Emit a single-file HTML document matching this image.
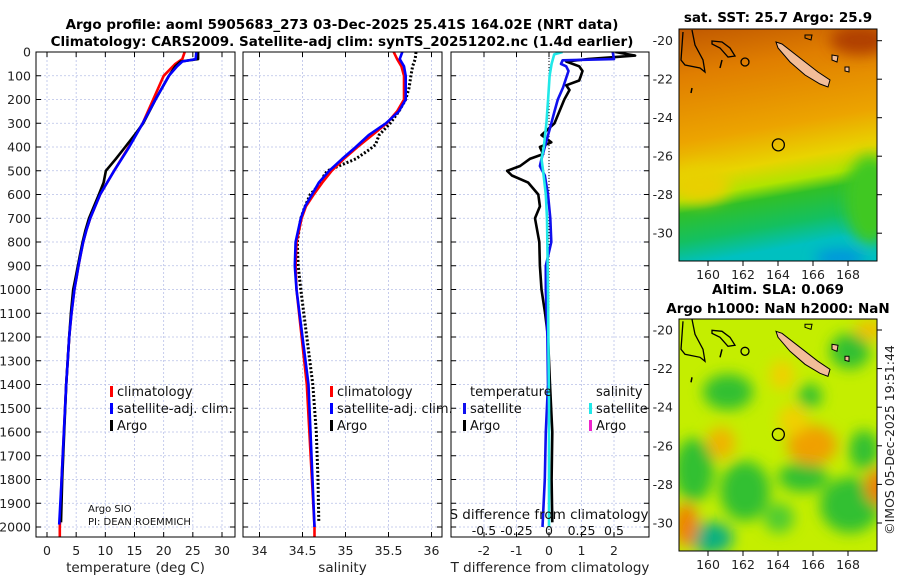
<!DOCTYPE html>
<html><head><meta charset="utf-8"><style>
html,body{margin:0;padding:0;background:#fff}
svg{display:block;font-family:"DejaVu Sans","Liberation Sans",sans-serif}
</style></head><body>
<svg id="s" width="900" height="580" viewBox="0 0 900 580" xmlns="http://www.w3.org/2000/svg">
<defs>
<clipPath id="c1"><rect x="36" y="52" width="199" height="485"/></clipPath>
<clipPath id="c2"><rect x="243" y="52" width="199" height="485"/></clipPath>
<clipPath id="c3"><rect x="451" y="52" width="198" height="485"/></clipPath>
<clipPath id="cm1"><rect x="679" y="29" width="198" height="232"/></clipPath>
<clipPath id="cm2"><rect x="679" y="319" width="198" height="232"/></clipPath>
<linearGradient id="sst" x1="0" y1="0" x2="0.15" y2="1">
<stop offset="0" stop-color="#c05800"/><stop offset="0.2" stop-color="#e07e00"/>
<stop offset="0.48" stop-color="#eca400"/><stop offset="0.63" stop-color="#e8d400"/>
<stop offset="0.72" stop-color="#b0e400"/><stop offset="0.78" stop-color="#30c028"/>
<stop offset="0.9" stop-color="#14c060"/><stop offset="1" stop-color="#00c0c0"/>
</linearGradient>
<filter id="bl" x="-50%" y="-50%" width="200%" height="200%"><feGaussianBlur stdDeviation="7"/></filter>
</defs>
<g font-weight="bold" font-size="13.5" text-anchor="middle">
<text x="342" y="29">Argo profile: aoml 5905683_273 03-Dec-2025 25.41S 164.02E (NRT data)</text>
<text x="342" y="46">Climatology: CARS2009. Satellite-adj clim: synTS_20251202.nc (1.4d earlier)</text>
</g>
<g id="panels"></g>
<g id="maps"></g>
</svg>
<script>
// ---------- data ----------
const tClimDepth = [0,30,50,100,200,300,400,500,600,700,750,800,850,900,950,1000,1100,1200,1400,1600,1800,2000,2045];
const tClim      = [23.6,23.2,22,20,18.2,16.4,14,11.5,9.1,7.4,6.75,6.2,5.8,5.4,5.05,4.7,4.2,3.8,3.3,2.9,2.5,2.2,2.2];
const tSatDepth  = [0,30,40,60,100,200,300,400,500,600,700,750,800,850,900,950,1000,1100,1200,1400,1600,1800,1990];
const tSat       = [25.6,25.5,23.2,22.3,20.9,18.6,16.4,14.1,11.5,9.1,7.4,6.75,6.2,5.8,5.4,5.05,4.7,4.2,3.8,3.3,2.9,2.5,2.1];
const tArgoDepth = [0,30,40,60,100,200,300,350,400,450,500,550,600,700,750,800,850,900,950,1000,1100,1200,1400,1600,1800,1980];
const tArgo      = [25.9,25.9,22.9,22,20.9,18.6,16.5,15,13.4,11.8,10.1,9.7,8.9,7.2,6.6,6.1,5.7,5.3,4.9,4.5,4.1,3.8,3.3,2.95,2.6,2.4];

const sClimDepth = [0,30,60,100,200,250,300,350,400,450,500,550,600,650,700,800,900,1000,1400,2000,2045];
const sClim      = [35.56,35.6,35.65,35.68,35.68,35.6,35.48,35.31,35.14,34.98,34.84,34.73,34.63,34.54,34.49,34.43,34.42,34.43,34.55,34.64,34.64];
const sSatDepth  = [0,30,60,100,200,250,300,350,400,450,500,550,600,650,700,800,900,1000,1400,2000];
const sSat       = [35.66,35.63,35.68,35.7,35.7,35.62,35.47,35.27,35.12,34.96,34.81,34.69,34.61,34.53,34.48,34.42,34.41,34.43,34.57,34.64];
const sArgoDepth = [0,30,60,100,150,200,250,300,350,390,410,450,500,520,550,600,650,700,800,900,1000,1400,1600,1800,1980];
const sArgo      = [35.82,35.81,35.78,35.76,35.74,35.7,35.62,35.52,35.39,35.35,35.28,35.12,34.79,34.75,34.72,34.59,34.53,34.48,34.44,34.45,34.48,34.62,34.66,34.68,34.69];

const dTArgoDepth = [0,15,30,40,60,80,100,120,140,160,200,250,300,350,380,400,430,450,480,500,520,550,600,650,700,800,900,1000,1100,1200,1400,1600,1800,1980];
const dTArgo      = [2.04,2.65,1.2,0.53,0.93,1.03,0.98,0.93,0.53,0.63,0.47,0.32,0.17,-0.23,0.07,-0.28,-0.18,-0.59,-0.89,-1.29,-1.14,-0.64,-0.33,-0.28,-0.43,-0.3,-0.28,-0.23,-0.12,-0.03,0.03,0.1,0.08,0.1];
const dTSatDepth  = [0,30,35,50,60,80,100,150,200,250,300,400,450,480,520,600,700,800,900,1000,1200,1400,1600,1800,2000];
const dTSat       = [1.96,2.0,0.42,0.37,0.53,0.6,0.55,0.43,0.27,0.17,0.07,-0.13,-0.23,-0.28,-0.13,-0.03,0.04,0.07,-0.1,-0.1,-0.05,-0.03,-0.1,-0.13,-0.2];
const dSSatDepth  = [0,10,50,100,200,300,400,450,500,600,700,1000,1500,2000];
const dSSat       = [0.105,0.04,0.02,0.005,-0.007,-0.02,-0.04,-0.058,-0.045,-0.025,-0.015,-0.008,0,0];

const depthTicks = [0,100,200,300,400,500,600,700,800,900,1000,1100,1200,1300,1400,1500,1600,1700,1800,1900,2000];
const tTicks  = [0,5,10,15,20,25,30];
const sTicks  = [34,34.5,35,35.5,36];
const sTickLabels = ["34","34.5","35","35.5","36"];
const dTTicks = [-2,-1,0,1,2];
const dSTicks = [-0.5,-0.25,0,0.25,0.5];
const dSTickLabels = ["-0.5","-0.25","0","0.25","0.5"];
const latTicks = [-20,-22,-24,-26,-28,-30];
const lonTicks = [160,162,164,166,168];
const floatLon = 164.02, floatLat = -25.41;

// ---------- scales ----------
const yD  = d => 52 + d*0.2375;
const xT  = t => 47 + t*5.833;
const xS  = s => 259.5 + (s-34)*86;
const xDT = v => 549 + v*32.5;
const xDS = v => 549 + v*130;
const NS = "http://www.w3.org/2000/svg";
function mk(tag, attrs, parent, txt){
  const e = document.createElementNS(NS, tag);
  for (const k in attrs) e.setAttribute(k, attrs[k]);
  if (txt !== undefined) e.textContent = txt;
  parent.appendChild(e); return e;
}
const P = document.getElementById('panels');
const panels = [
  {x0:36,x1:235,clip:'c1',xs:xT,ticks:tTicks,labels:tTicks.map(String),name:'temperature-panel',xl:'temperature (deg C)'},
  {x0:243,x1:442,clip:'c2',xs:xS,ticks:sTicks,labels:sTickLabels,name:'salinity-panel',xl:'salinity'},
  {x0:451,x1:649,clip:'c3',xs:xDT,ticks:dTTicks,labels:dTTicks.map(String),name:'difference-panel',xl:'T difference from climatology'}
];
function line(parent, depths, vals, xs, color, w, dash, name){
  const pts = depths.map((d,i)=> xs(vals[i]).toFixed(1)+','+yD(d).toFixed(1)).join(' ');
  const el = mk('polyline',{points:pts,fill:'none',stroke:color,'stroke-width':w,'stroke-linejoin':'round'},parent);
  if (dash) el.setAttribute('stroke-dasharray', dash);
  
  
}
const groups = [];
panels.forEach((p,pi)=>{
  const g = mk('g',{},P);
  
  
  groups.push(g);
  const grid = mk('g',{stroke:'#b8c0e8','stroke-width':0.8,'stroke-dasharray':'2,2'},g);
  
  
  depthTicks.forEach(d=>{ mk('line',{x1:p.x0,x2:p.x1,y1:yD(d),y2:yD(d)},grid); });
  p.ticks.forEach(t=>{ mk('line',{x1:p.xs(t),x2:p.xs(t),y1:52,y2:537},grid); });
  const tk = mk('g',{stroke:'#000','stroke-width':1},g);
  depthTicks.forEach(d=>{
    mk('line',{x1:p.x0,x2:p.x0+5,y1:yD(d),y2:yD(d)},tk);
    mk('line',{x1:p.x1,x2:p.x1-5,y1:yD(d),y2:yD(d)},tk);
  });
  p.ticks.forEach(t=>{
    mk('line',{x1:p.xs(t),x2:p.xs(t),y1:537,y2:532},tk);
    mk('line',{x1:p.xs(t),x2:p.xs(t),y1:52,y2:57},tk);
  });
  const tl = mk('g',{'font-size':12.5,'text-anchor':'middle',fill:'#222'},g);
  
  
  p.ticks.forEach((t,i)=>{ mk('text',{x:p.xs(t),y:555},tl,p.labels[i]); });
  const xl = mk('text',{x:(p.x0+p.x1)/2,y:572,'font-size':13.5,'text-anchor':'middle',fill:'#222'},g,p.xl);
  
  
});
const yl = mk('g',{'font-size':12.5,'text-anchor':'end',fill:'#222'},groups[0]);


depthTicks.forEach(d=>{ mk('text',{x:31,y:yD(d)+4.5},yl,String(d)); });

const c1 = mk('g',{'clip-path':'url(#c1)'},groups[0]);
line(c1,tClimDepth,tClim,xT,'#ff0000',2.6,null,'temp-climatology-line');
line(c1,tArgoDepth,tArgo,xT,'#000',2.6,null,'temp-argo-line');
line(c1,tSatDepth,tSat,xT,'#0000ff',2.6,null,'temp-satellite-line');
const c2 = mk('g',{'clip-path':'url(#c2)'},groups[1]);
line(c2,sArgoDepth,sArgo,xS,'#000',3,'2,2','sal-argo-line');
line(c2,sClimDepth,sClim,xS,'#ff0000',2.6,null,'sal-climatology-line');
line(c2,sSatDepth,sSat,xS,'#0000ff',2.6,null,'sal-satellite-line');
const c3 = mk('g',{'clip-path':'url(#c3)'},groups[2]);
const zl = mk('line',{x1:xDT(0),x2:xDT(0),y1:52,y2:537,stroke:'#000','stroke-width':1,'stroke-dasharray':'1,2'},c3);


line(c3,dTArgoDepth,dTArgo,xDT,'#000',2.6,null,'tdiff-argo-line');
line(c3,dTSatDepth,dTSat,xDT,'#1010ee',2.6,null,'tdiff-satellite-line');
line(c3,dSSatDepth,dSSat,xDS,'#20e8e8',2.6,null,'sdiff-satellite-line');

panels.forEach((p,pi)=>{
  const f = mk('rect',{x:p.x0,y:52,width:p.x1-p.x0,height:485,fill:'none',stroke:'#000','stroke-width':1},groups[pi]);
  
  
});

function legend(parent, x, y, color, label, name){
  const g = mk('g',{},parent);
  
  
  mk('rect',{x:x,y:y-10,width:3,height:11,fill:color},g);
  mk('text',{x:x+7,y:y,'font-size':13,fill:'#111'},g,label);
}
legend(groups[0],110,396,'#ff0000','climatology','legend-climatology');
legend(groups[0],110,413,'#0000ff','satellite-adj. clim.','legend-satellite');
legend(groups[0],110,430,'#000','Argo','legend-argo');
legend(groups[1],330,396,'#ff0000','climatology','legend-climatology');
legend(groups[1],330,413,'#0000ff','satellite-adj. clim.','legend-satellite');
legend(groups[1],330,430,'#000','Argo','legend-argo');
const lt = mk('text',{x:470,y:396,'font-size':13,fill:'#111'},groups[2],'temperature');
 
const ls = mk('text',{x:596,y:396,'font-size':13,fill:'#111'},groups[2],'salinity');
 
legend(groups[2],463,413,'#1010ee','satellite','legend-t-satellite');
legend(groups[2],463,430,'#000','Argo','legend-t-argo');
legend(groups[2],589,413,'#20e8e8','satellite','legend-s-satellite');
legend(groups[2],589,430,'#ee22cc','Argo','legend-s-argo');
const pi1 = mk('text',{x:88,y:512,'font-size':10,fill:'#111'},groups[0],'Argo SIO');
 
const pi2 = mk('text',{x:88,y:525,'font-size':10,fill:'#111'},groups[0],'PI: DEAN ROEMMICH');
 
const sdt = mk('text',{x:549,y:519,'font-size':13.5,'text-anchor':'middle',fill:'#111'},groups[2],'S difference from climatology');
 
const sdl = mk('g',{'font-size':12.5,'text-anchor':'middle',fill:'#111'},groups[2]);
 
dSTicks.forEach((v,i)=>{ mk('text',{x:xDS(v),y:535},sdl,dSTickLabels[i]); });

// ---------- maps ----------
const M = document.getElementById('maps');
const lonX = lon => 708 + (lon-160)*17.5;
function map(y0, latY, kind, name, titles){
  const g = mk('g',{},M);
  
  
  const cg = mk('g',{'clip-path': kind==='sst'?'url(#cm1)':'url(#cm2)'},g);
  if (kind==='sst'){
    mk('rect',{x:679,y:y0,width:198,height:232,fill:'url(#sst)'},cg);
    const b = mk('g',{filter:'url(#bl)'},cg);
    mk('ellipse',{cx:870,cy:200,rx:25,ry:45,fill:'#40c820'},b);
    mk('ellipse',{cx:700,cy:185,rx:30,ry:18,fill:'#e8d000'},b);
    mk('ellipse',{cx:860,cy:40,rx:30,ry:15,fill:'#b04000'},b);
    mk('ellipse',{cx:840,cy:258,rx:25,ry:8,fill:'#0090e0'},b);
  } else {
    mk('rect',{x:679,y:y0,width:198,height:232,fill:'#c4ee00'},cg);
    const b = mk('g',{filter:'url(#bl)'},cg);
    [[728,392,25,18,'#30c030'],[810,396,12,12,'#30c030'],[850,351,20,18,'#30c030'],[694,470,20,32,'#30c030'],
     [745,491,25,30,'#30c030'],[803,477,25,15,'#30c030'],[850,505,30,28,'#30c030'],[864,450,15,20,'#30c030'],
     [711,538,22,16,'#10b080'],[779,518,15,15,'#50cc30'],[721,443,14,16,'#f0b400'],[812,445,25,20,'#f0a000'],
     [880,487,15,18,'#f08000'],[686,525,12,22,'#f08000'],[793,420,15,15,'#f0d000'],[782,375,12,15,'#f0d000'],
     [870,330,15,10,'#f0c000']]
     .forEach(a=>{ mk('ellipse',{cx:a[0],cy:a[1],rx:a[2],ry:a[3],fill:a[4]},b); });
  }
  const oy = latY(-20) - 40.7;
  const land = mk('g',{transform:'translate(0,'+oy+')'},cg);
  
  
  mk('path',{d:'M683,32 L681,60 L685,65 L700,68 L705,72 L703,60 L695,45 L692,30',fill:'none',stroke:'#000','stroke-width':1.3},land);
  mk('path',{d:'M712,41 L722,42 L730,48 L735,56 L728,57 L720,48 L712,44 Z',fill:'none',stroke:'#000','stroke-width':1.3},land);
  mk('path',{d:'M722,60 L720,68',fill:'none',stroke:'#000','stroke-width':1.5},land);
  mk('circle',{cx:745,cy:62,r:4,fill:'none',stroke:'#000','stroke-width':1.3},land);
  mk('path',{d:'M776,42 L782,44 L800,58 L818,72 L830,80 L828,87 L820,84 L805,75 L790,62 L778,48 Z',fill:'#f2bd98',stroke:'#000','stroke-width':1},land);
  mk('path',{d:'M805,35 L812,35 L811,40 L805,38 Z',fill:'none',stroke:'#000','stroke-width':1},land);
  mk('path',{d:'M832,55 L838,56 L837,62 L832,60 Z',fill:'#f2bd98',stroke:'#000','stroke-width':1},land);
  mk('path',{d:'M845,67 L849,67 L849,72 L845,71 Z',fill:'#f2bd98',stroke:'#000','stroke-width':1},land);
  mk('path',{d:'M692,88 L691,93',fill:'none',stroke:'#000','stroke-width':1.5},land);
  const fm = mk('circle',{cx:lonX(floatLon),cy:latY(floatLat),r:6,fill:'none',stroke:'#000','stroke-width':1.3},g);
  
  
  mk('rect',{x:679,y:y0,width:198,height:232,fill:'none',stroke:'#000','stroke-width':1},g);
  const tk = mk('g',{stroke:'#000','stroke-width':1},g);
  const lab = mk('g',{'font-size':12.5,fill:'#222'},g);
  latTicks.forEach(l=>{
    mk('line',{x1:877,x2:882,y1:latY(l),y2:latY(l)},tk);
    mk('text',{x:673,y:latY(l)+4.5,'text-anchor':'end'},lab,String(l));
  });
  lonTicks.forEach(l=>{
    mk('line',{x1:lonX(l),x2:lonX(l),y1:y0+232,y2:y0+237},tk);
    mk('text',{x:lonX(l),y:y0+250,'text-anchor':'middle'},lab,String(l));
  });
  titles.forEach(t=>{ mk('text',{x:778,y:t[1],'font-size':13.5,'font-weight':'bold','text-anchor':'middle'},g,t[0]); });
}
map(29, l => 40.7 + (-20-l)*19.25, 'sst', 'sst-map', [['sat. SST: 25.7  Argo: 25.9',22]]);
map(319, l => 330 + (-20-l)*19.3, 'sla', 'sla-map', [['Altim. SLA: 0.069',294],['Argo h1000: NaN h2000: NaN',313]]);
const cp = mk('text',{x:0,y:0,'font-size':12.5,fill:'#222','text-anchor':'middle',transform:'translate(894,440) rotate(-90)'},M,'©IMOS 05-Dec-2025 19:51:44');


</script>
</body></html>
